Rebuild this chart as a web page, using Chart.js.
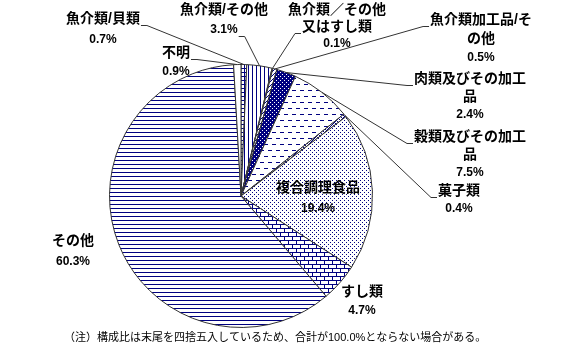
<!DOCTYPE html>
<html>
<head>
<meta charset="utf-8">
<script src="https://cdn.jsdelivr.net/npm/chart.js@4/dist/chart.umd.min.js"></script>
<style>
html, body { margin: 0; padding: 0; background: #fff; }
#wrap { position: relative; width: 565px; height: 354px; }
</style>
</head>
<body>
<div id="wrap"><canvas id="chart"></canvas></div>
<script>
// data, clockwise from 12 o'clock
let categories = ['魚介類/貝類', '魚介類/その他', '魚介類／その他又はすし類', '魚介類加工品/その他', '肉類及びその加工品', '穀類及びその加工品', '菓子類', '複合調理食品', 'すし類', 'その他', '不明'];
let shares = [0.7, 3.1, 0.1, 0.5, 2.4, 7.5, 0.4, 19.4, 4.7, 60.3, 0.9];
let note = '（注）構成比は末尾を四捨五入しているため、合計が100.0%とならない場合がある。';

// label placement: text centre x, first line y, line height, chars per line, leader side/line
let labelPos = [
  { x: 103, y: 19, lh: 21, wrap: 8, lead: 'right', line: 0 },
  { x: 224, y: 10, lh: 20, wrap: 8, lead: 'right', line: 1 },
  { x: 337, y: 10, lh: 17, wrap: 7, lead: 'left', line: 1 },
  { x: 481, y: 20, lh: 19, wrap: 8, lead: 'left', line: 0 },
  { x: 470, y: 79, lh: 18, wrap: 8, lead: 'left', line: 0 },
  { x: 470, y: 137, lh: 18, wrap: 8, lead: 'left', line: 0 },
  { x: 459, y: 191, lh: 18, wrap: 8, lead: 'left', line: 0 },
  { x: 318, y: 188, lh: 21, wrap: 8, lead: null },
  { x: 362, y: 292, lh: 19, wrap: 8, lead: null },
  { x: 73, y: 241, lh: 21, wrap: 8, lead: null },
  { x: 176, y: 53, lh: 19, wrap: 8, lead: 'right', line: 0 },
];

let navy = '#000080';

let makePattern = (w, h, bg, fg, draw) => {
  let c = document.createElement('canvas');
  c.width = w;
  c.height = h;
  let g = c.getContext('2d');
  g.fillStyle = bg;
  g.fillRect(0, 0, w, h);
  g.fillStyle = fg;
  draw(g);
  return g.createPattern(c, 'repeat');
};

let fills = [
  makePattern(4, 4, '#fff', navy, g => { g.fillRect(0, 0, 1, 4); g.fillRect(0, 0, 4, 1); }),
  makePattern(4, 1, '#fff', navy, g => g.fillRect(0, 0, 1, 1)),
  '#fff',
  makePattern(4, 4, '#fff', navy, g => { g.fillRect(0, 3, 1, 1); g.fillRect(1, 2, 1, 1); g.fillRect(2, 1, 1, 1); g.fillRect(3, 0, 1, 1); }),
  makePattern(4, 4, navy, '#fff', g => { g.fillRect(0, 0, 1, 1); g.fillRect(2, 2, 1, 1); }),
  makePattern(8, 12, '#fff', navy, g => { g.fillRect(0, 0, 4, 1); g.fillRect(4, 6, 4, 1); }),
  makePattern(4, 4, '#fff', navy, g => { g.fillRect(0, 0, 1, 1); g.fillRect(1, 1, 1, 1); g.fillRect(2, 2, 1, 1); g.fillRect(3, 3, 1, 1); g.fillRect(3, 1, 1, 1); g.fillRect(1, 3, 1, 1); }),
  makePattern(4, 4, '#fff', navy, g => { g.fillRect(0, 0, 1, 1); g.fillRect(2, 2, 1, 1); }),
  makePattern(8, 8, '#fff', navy, g => { g.fillRect(0, 0, 8, 1); g.fillRect(0, 4, 8, 1); g.fillRect(0, 0, 1, 4); g.fillRect(4, 4, 1, 4); }),
  makePattern(1, 4, '#fff', navy, g => g.fillRect(0, 0, 1, 1)),
  '#fff',
];

let nameFont = 'bold 14px "Liberation Sans", "Noto Sans CJK JP"';
let valueFont = 'bold 12px "Liberation Sans", "Noto Sans CJK JP"';

let labelPlugin = {
  id: 'pieLabels',
  afterDraw: (chart) => {
    let ctx = chart.ctx;
    let arcs = chart.getDatasetMeta(0).data;
    ctx.save();
    ctx.textAlign = 'center';
    ctx.textBaseline = 'middle';
    ctx.fillStyle = '#000';
    ctx.strokeStyle = '#333';
    ctx.lineWidth = 1;

    categories.forEach((name, i) => {
      let p = labelPos[i];
      let lines = [];
      for (let k = 0; k < name.length; k += p.wrap) lines.push(name.slice(k, k + p.wrap));
      lines.push(shares[i].toFixed(1) + '%');

      let widths = [];
      lines.forEach((t, j) => {
        ctx.font = j === lines.length - 1 ? valueFont : nameFont;
        widths.push(ctx.measureText(t).width);
        ctx.fillText(t, p.x, p.y + j * p.lh);
      });

      if (p.lead) {
        let a = arcs[i];
        let mid = (a.startAngle + a.endAngle) / 2;
        let ex = a.x + Math.cos(mid) * a.outerRadius;
        let ey = a.y + Math.sin(mid) * a.outerRadius;
        let by = Math.round(p.y + p.line * p.lh + 6) + 0.5;
        let w = widths[p.line];
        let x1, x2;
        if (p.lead === 'right') {
          x1 = p.x + w / 2 + 1;
          x2 = x1 + 6;
        } else {
          x1 = p.x - w / 2 - 1;
          x2 = x1 - 6;
        }
        ctx.beginPath();
        ctx.moveTo(x1, by);
        ctx.lineTo(x2, by);
        ctx.lineTo(ex, ey);
        ctx.stroke();
      }
    });

    ctx.font = '11px "Liberation Sans", "Noto Sans CJK JP"';
    ctx.textAlign = 'left';
    ctx.fillText(note, 64, 338);
    ctx.restore();
  },
};

new Chart(document.getElementById('chart'), {
  type: 'pie',
  data: {
    labels: categories,
    datasets: [{
      data: shares,
      backgroundColor: fills,
      borderColor: '#333',
      borderWidth: 1,
    }],
  },
  options: {
    responsive: true,
    maintainAspectRatio: false,
    animation: false,
    layout: { padding: { top: 64, bottom: 26, left: 0, right: 83 } },
    plugins: {
      legend: { display: false },
      tooltip: { enabled: false },
    },
  },
  plugins: [labelPlugin],
});

document.getElementById('chart').parentNode.style.height = '354px';
</script>
</body>
</html>
